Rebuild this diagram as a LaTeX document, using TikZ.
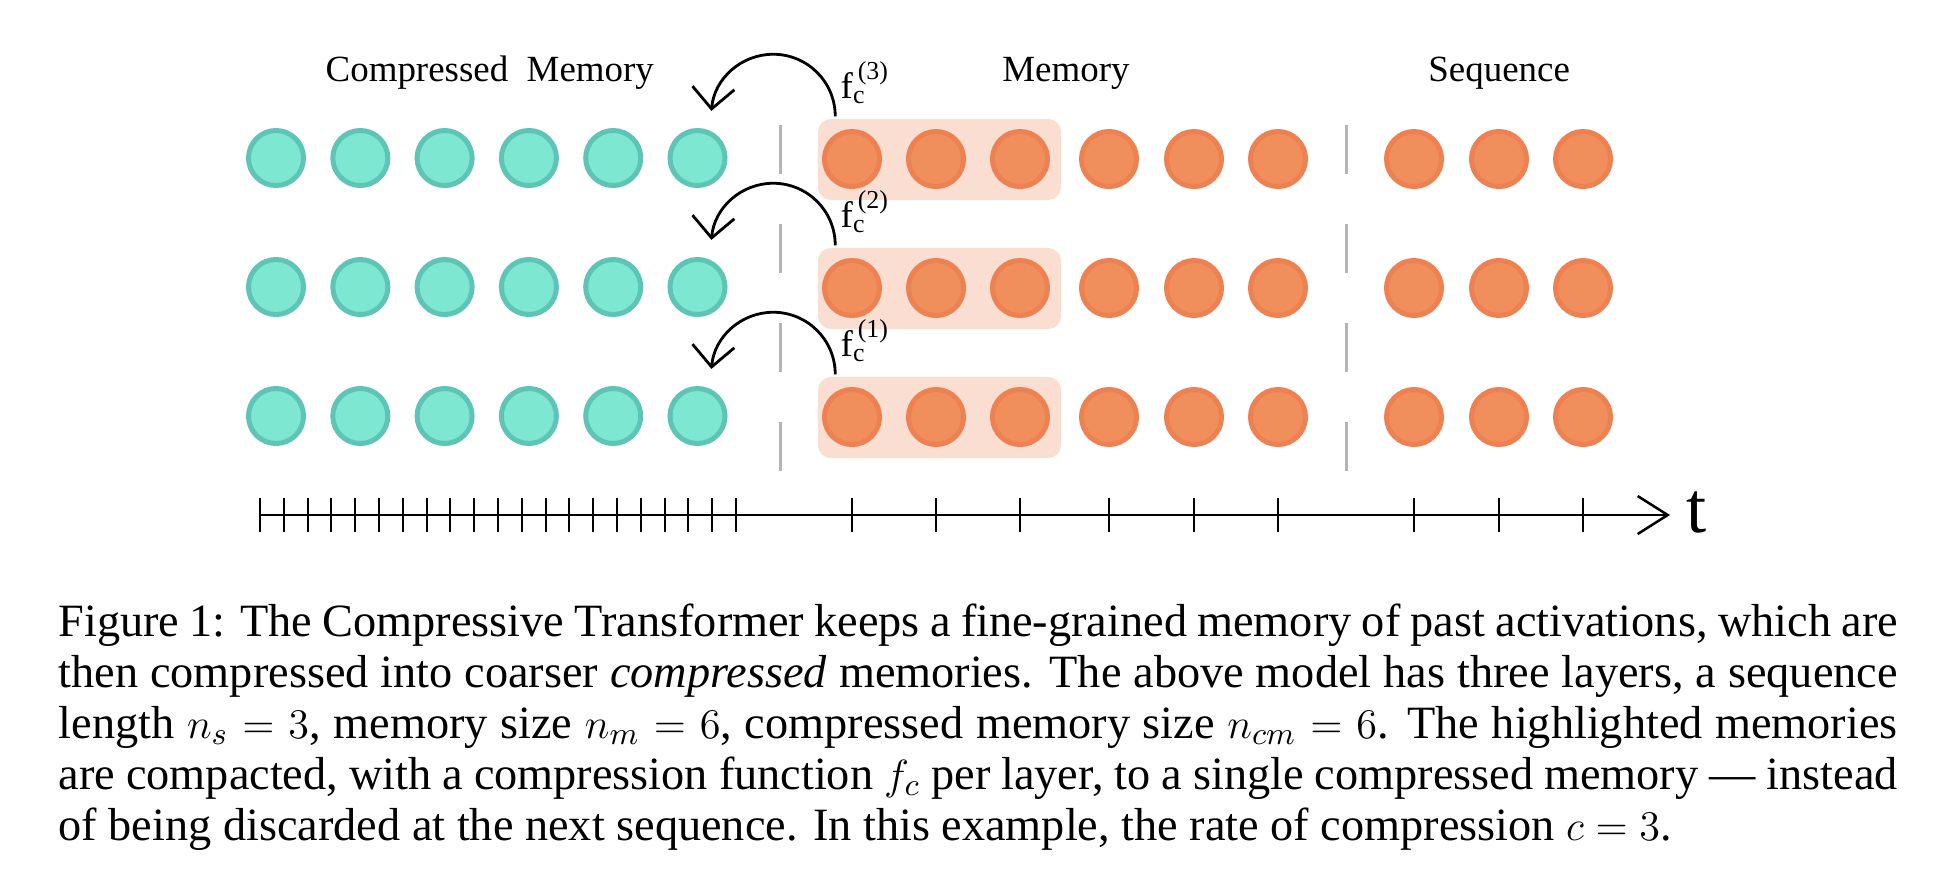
\documentclass[tikz,border=0pt]{standalone}
\usepackage{amsmath}
\usepackage[no-math]{fontspec}
\setmainfont{Liberation Serif}
\usetikzlibrary{arrows.meta}
\definecolor{tealfill}{RGB}{126,231,210}
\definecolor{tealline}{RGB}{94,196,182}
\definecolor{orfill}{RGB}{240,142,92}
\definecolor{orline}{RGB}{238,129,82}
\definecolor{hlfill}{RGB}{250,222,210}
\definecolor{sepgray}{RGB}{180,180,180}
\def\capfont{\fontsize{13.16pt}{14.47pt}\selectfont}
\def\capline#1{\makebox[18.38cm][s]{#1}}
\tikzset{
	cmem/.style={circle, draw=tealline, fill=tealfill, line width=0.05cm, minimum size=0.55cm, inner sep=0pt},
	mem/.style={circle, draw=orline, fill=orfill, line width=0.05cm, minimum size=0.55cm, inner sep=0pt},
	hlbox/.style={fill=hlfill, rounded corners=0.13cm, inner sep=0pt, minimum width=2.43cm, minimum height=0.81cm},
	sepline/.style={sepgray, line width=0.03cm, dash pattern=on 0.49cm off 0.5cm},
	fcarrow/.style={line width=0.028cm, -{Straight Barb[length=0.21cm,width=0.42cm]}},
	timeaxis/.style={line width=0.025cm, -{Straight Barb[length=0.3cm,width=0.38cm]}},
	tickmark/.style={line width=0.02cm},
	toplabel/.style={anchor=base west, inner sep=0pt, font=\fontsize{10.5pt}{12pt}\selectfont},
}

\begin{document}
\begin{tikzpicture}[x=0.01cm, y=-0.01cm]
			%%%%% START %%%%%
			\useasboundingbox (0, 0) rectangle (1946, 890);
			
			\node[toplabel] (lcm) at (325, 81.7) {Compressed\ \ Memory};
			\node[toplabel] (lmem) at (1001.7, 81.7) {Memory};
			\node[toplabel] (lseq) at (1427.7, 81.7) {Sequence};
			
			\foreach \r/\ry/\lev in {1/159/3, 2/288/2, 3/417/1}{
				\node[hlbox] (hb\r) at (939.5, \ry+0.5) {};
				\foreach \i in {1,...,6}
					\node[cmem] (c\r\i) at ({276+84.3*(\i-1)}, \ry-1) {};
				\foreach \i/\mx in {1/852, 2/936, 3/1020, 4/1109, 5/1194, 6/1278}
					\node[mem] (m\r\i) at (\mx, \ry) {};
				\foreach \i/\sx in {1/1414, 2/1499, 3/1583}
					\node[mem] (s\r\i) at (\sx, \ry) {};
				\draw[fcarrow] ([xshift=0.18cm, yshift=0.02cm]hb\r.north west) arc[start angle=0, end angle=175, radius=0.62cm];
				\node[toplabel] (fc\r) at (840, \ry-61) {f$_{\textrm{c}}^{\,\textrm{(\lev)}}$};
			}
			
			\draw[sepline] (780.7, 125) -- (780.7, 472);
			\draw[sepline] (1346.7, 125) -- (1346.7, 472);
			
			% time axis
			\coordinate (tstart) at (260, 515);
			\coordinate (tend) at (1670, 515);
			\draw[timeaxis] (tstart) -- (tend);
			\node[anchor=base west, inner sep=0pt, font=\fontsize{20.6pt}{24pt}\selectfont] (tlab) at (1686, 532) {t};
			\foreach \i in {0,...,20}
				\draw[tickmark] ({260+23.8*\i}, 498) -- ({260+23.8*\i}, 532);
			\foreach \xx in {852, 936, 1020, 1109, 1194, 1278, 1414, 1499, 1583}
				\draw[tickmark] (\xx, 498) -- (\xx, 532);
			
			% caption
			\node[anchor=base west, inner sep=0pt, font=\capfont] (cap1) at (58, 636.7) {\capline{Figure 1: The Compressive Transformer keeps a fine-grained memory of past activations, which are}};
			\node[anchor=base west, inner sep=0pt, font=\capfont] (cap2) at (58, 687.6) {\capline{then compressed into coarser \emph{compressed} memories. The above model has three layers, a sequence}};
			\node[anchor=base west, inner sep=0pt, font=\capfont] (cap3) at (58, 738.5) {\capline{length $n_s = 3$, memory size $n_m = 6$, compressed memory size $n_{cm} = 6$. The highlighted memories}};
			\node[anchor=base west, inner sep=0pt, font=\capfont] (cap4) at (58, 789.4) {\capline{are compacted, with a compression function $f_c$ per layer, to a single compressed memory --- instead}};
			\node[anchor=base west, inner sep=0pt, font=\capfont] (cap5) at (58, 840.3) {of being discarded at the next sequence. In this example, the rate of compression $c = 3$.};
			
			%%%%% END %%%%%
\end{tikzpicture}
\end{document}
